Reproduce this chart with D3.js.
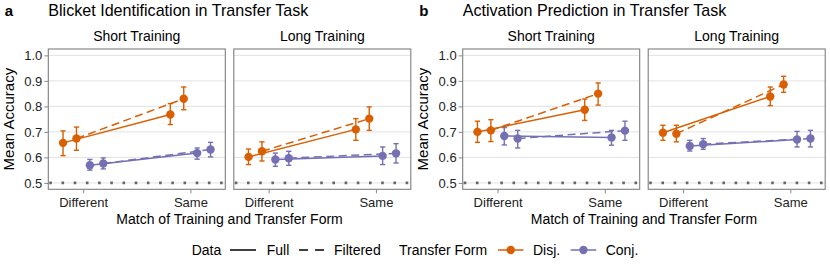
<!DOCTYPE html>
<html>
<head>
<meta charset="utf-8">
<script src="https://cdn.jsdelivr.net/npm/d3@7/dist/d3.min.js"></script>
<style>
  body { margin: 0; background: #fff; }
  svg { display: block; }
  text { font-family: "Liberation Sans", Arial, Helvetica, sans-serif; }
</style>
</head>
<body>
<svg id="chart" width="830" height="267"></svg>
<script>
// ---------------- DATA ----------------
const matches = ["Different", "Same"];
const trainings = ["Short Training", "Long Training"];
const transferForms = ["Disj.", "Conj."];
const dataTypes = ["Full", "Filtered"];
const yTicks = [0.5, 0.6, 0.7, 0.8, 0.9, 1.0];
const chanceLevel = 0.5;
const panelTitles = ["Blicket Identification in Transfer Task", "Activation Prediction in Transfer Task"];
const panelTags = ["a", "b"];

// order in each array: Disj.-Full [Diff, Same], Disj.-Filtered [Diff, Same],
//                      Conj.-Full [Diff, Same], Conj.-Filtered [Diff, Same]
const blicketShortMean = [0.657, 0.768, 0.674, 0.830, 0.569, 0.617, 0.576, 0.631];
const blicketShortLo   = [0.607, 0.729, 0.628, 0.787, 0.550, 0.593, 0.555, 0.602];
const blicketShortHi   = [0.704, 0.811, 0.719, 0.876, 0.592, 0.637, 0.598, 0.659];

const blicketLongMean  = [0.602, 0.710, 0.624, 0.752, 0.592, 0.606, 0.597, 0.616];
const blicketLongLo    = [0.572, 0.667, 0.586, 0.706, 0.565, 0.572, 0.569, 0.578];
const blicketLongHi    = [0.633, 0.752, 0.661, 0.798, 0.617, 0.641, 0.624, 0.654];

const activShortMean   = [0.700, 0.787, 0.706, 0.850, 0.684, 0.678, 0.674, 0.705];
const activShortLo     = [0.659, 0.745, 0.662, 0.805, 0.649, 0.648, 0.637, 0.667];
const activShortHi     = [0.742, 0.829, 0.748, 0.892, 0.717, 0.706, 0.706, 0.742];

const activLongMean    = [0.697, 0.839, 0.693, 0.886, 0.645, 0.670, 0.652, 0.674];
const activLongLo      = [0.667, 0.803, 0.661, 0.855, 0.625, 0.641, 0.632, 0.641];
const activLongHi      = [0.726, 0.876, 0.726, 0.918, 0.667, 0.702, 0.674, 0.706];

// ---------------- BUILD ----------------
function buildPanel(mean, lo, hi) {
  const rows = [];
  let i = 0;
  transferForms.forEach(tf => dataTypes.forEach(dt => matches.forEach(m => {
    rows.push({ form: tf, type: dt, match: m, group: tf + "|" + dt, mean: mean[i], lo: lo[i], hi: hi[i] });
    i++;
  })));
  return rows;
}
const figures = [
  [buildPanel(blicketShortMean, blicketShortLo, blicketShortHi), buildPanel(blicketLongMean, blicketLongLo, blicketLongHi)],
  [buildPanel(activShortMean, activShortLo, activShortHi), buildPanel(activLongMean, activLongLo, activLongHi)]
];

const colors = { "Disj.": "#D95F02", "Conj.": "#7570B3" };
const dashes = { "Full": null, "Filtered": "8,4.5" };
const groups = [];
transferForms.forEach(tf => dataTypes.forEach(dt => groups.push(tf + "|" + dt)));

const svg = d3.select("#chart");
const pTop = 49, pBottom = 189.3;
const panelW = 177;
const figLeft = [48.3, 462.7];
const panelGap = 8.5;

const y = d3.scaleLinear().domain([0.475, 1.025]).range([pBottom, pTop]);

figures.forEach((fig, fi) => {
  const g = svg.append("g");
  // tag and title
  g.append("text").attr("x", figLeft[fi] - 43.5).attr("y", 16).attr("font-size", 15).attr("font-weight", "bold").text(panelTags[fi]);
  g.append("text").attr("x", figLeft[fi]).attr("y", 16).attr("font-size", 16.1).attr("fill", "#000").text(panelTitles[fi]);
  // y axis title
  g.append("text")
    .attr("transform", `translate(${figLeft[fi] - 34.8},${(pTop + pBottom) / 2}) rotate(-90)`)
    .attr("text-anchor", "middle").attr("font-size", 15).text("Mean Accuracy");
  // y axis
  const yAxis = d3.axisLeft(y).tickValues(yTicks).tickFormat(d3.format(".1f")).tickSize(4).tickPadding(2);
  const ya = g.append("g").attr("transform", `translate(${figLeft[fi]},0)`).call(yAxis);
  ya.select(".domain").remove();
  ya.selectAll("line").attr("stroke", "#888").attr("stroke-width", 1);
  ya.selectAll("text").attr("font-size", 13).attr("fill", "#222").attr("font-family", "Liberation Sans, Arial, sans-serif");

  // x axis title
  const left0 = figLeft[fi], right1 = figLeft[fi] + 2 * panelW + panelGap;
  g.append("text").attr("x", (left0 + right1) / 2).attr("y", 223.5).attr("text-anchor", "middle")
    .attr("font-size", 14).text("Match of Training and Transfer Form");

  fig.forEach((rows, pi) => {
    const px = figLeft[fi] + pi * (panelW + panelGap);
    const pg = g.append("g").attr("transform", `translate(${px},0)`);
    const x = d3.scalePoint().domain(matches).range([0, panelW]).padding(0.325);
    const step = x.step();
    const dodge = d3.scalePoint().domain(groups).range([-0.1875 * step, 0.1875 * step]);
    const xp = d => x(d.match) + dodge(d.group);

    // strip
    pg.append("text").attr("x", panelW / 2).attr("y", 40.5).attr("text-anchor", "middle")
      .attr("font-size", 14).text(trainings[pi]);
    // grid
    pg.selectAll(".grid").data(yTicks).join("line")
      .attr("x1", 0).attr("x2", panelW).attr("y1", d => y(d)).attr("y2", d => y(d))
      .attr("stroke", "#e2e2e2").attr("stroke-width", 1);
    // chance line
    pg.append("line").attr("x1", 1).attr("x2", panelW).attr("y1", y(chanceLevel)).attr("y2", y(chanceLevel))
      .attr("stroke", "#666").attr("stroke-width", 2.6).attr("stroke-dasharray", "2.6,9.6");
    // x axis
    const xAxis = d3.axisBottom(x).tickSize(4).tickPadding(4);
    const xa = pg.append("g").attr("transform", `translate(0,${pBottom})`).call(xAxis);
    xa.select(".domain").remove();
    xa.selectAll("line").attr("stroke", "#888");
    xa.selectAll("text").attr("font-size", 13).attr("fill", "#222").attr("font-family", "Liberation Sans, Arial, sans-serif");

    // error bars
    const eb = pg.append("g");
    eb.selectAll(".v").data(rows).join("line")
      .attr("x1", xp).attr("x2", xp).attr("y1", d => y(d.lo)).attr("y2", d => y(d.hi))
      .attr("stroke", d => colors[d.form]).attr("stroke-width", 1.4);
    eb.selectAll(".t").data(rows).join("line")
      .attr("x1", d => xp(d) - 2.6).attr("x2", d => xp(d) + 2.6).attr("y1", d => y(d.hi)).attr("y2", d => y(d.hi))
      .attr("stroke", d => colors[d.form]).attr("stroke-width", 1.4);
    eb.selectAll(".b").data(rows).join("line")
      .attr("x1", d => xp(d) - 2.6).attr("x2", d => xp(d) + 2.6).attr("y1", d => y(d.lo)).attr("y2", d => y(d.lo))
      .attr("stroke", d => colors[d.form]).attr("stroke-width", 1.4);

    // lines
    const lineGen = d3.line().x(xp).y(d => y(d.mean));
    const grouped = d3.groups(rows, d => d.group);
    pg.selectAll(".ln").data(grouped).join("path")
      .attr("d", d => lineGen(d[1]))
      .attr("fill", "none")
      .attr("stroke", d => colors[d[1][0].form])
      .attr("stroke-width", 1.5)
      .attr("stroke-dasharray", d => dashes[d[1][0].type]);

    // points
    pg.selectAll(".pt").data(rows).join("circle")
      .attr("cx", xp).attr("cy", d => y(d.mean)).attr("r", 4.2)
      .attr("fill", d => colors[d.form]);

    // border
    pg.append("rect").attr("x", 0).attr("y", pTop).attr("width", panelW).attr("height", pBottom - pTop)
      .attr("fill", "none").attr("stroke", "#7f7f7f").attr("stroke-width", 1.1);
  });
});

// ---------------- LEGEND ----------------
const lg = svg.append("g").attr("font-size", 14);
const ly = 250, lb = 255;
lg.append("text").attr("x", 191.7).attr("y", lb).text("Data");
lg.append("line").attr("x1", 230).attr("x2", 256).attr("y1", ly).attr("y2", ly).attr("stroke", "#000").attr("stroke-width", 1.5);
lg.append("text").attr("x", 266.7).attr("y", lb).text(dataTypes[0]);
lg.append("line").attr("x1", 299).attr("x2", 324.5).attr("y1", ly).attr("y2", ly).attr("stroke", "#000").attr("stroke-width", 1.5).attr("stroke-dasharray", "9,7");
lg.append("text").attr("x", 334).attr("y", lb).text(dataTypes[1]);
lg.append("text").attr("x", 399).attr("y", lb).text("Transfer Form");
const keyX = [498, 570.7];
transferForms.forEach((tf, i) => {
  lg.append("line").attr("x1", keyX[i]).attr("x2", keyX[i] + 25.5).attr("y1", ly).attr("y2", ly).attr("stroke", colors[tf]).attr("stroke-width", 1.5);
  lg.append("circle").attr("cx", keyX[i] + 12.75).attr("cy", ly).attr("r", 4.2).attr("fill", colors[tf]);
  lg.append("text").attr("x", keyX[i] + 35).attr("y", lb).text(tf);
});
</script>
</body>
</html>
